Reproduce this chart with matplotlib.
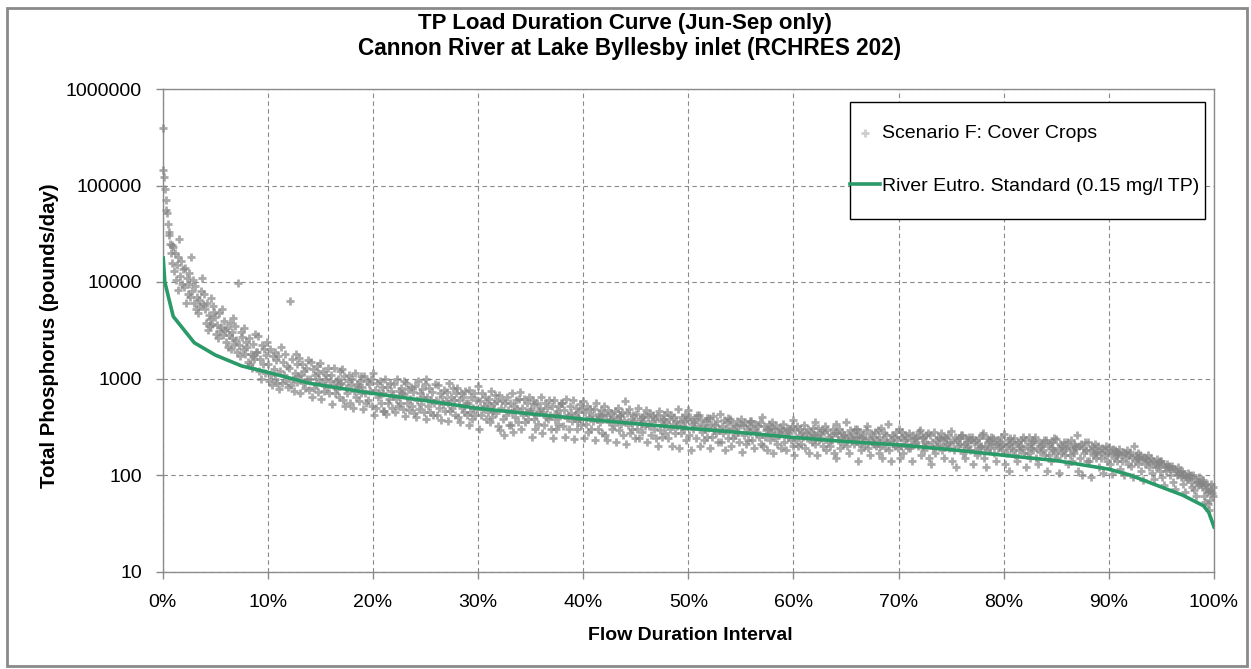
import numpy as np
import matplotlib
matplotlib.use("Agg")
import matplotlib.pyplot as plt
from matplotlib.ticker import FixedLocator, FuncFormatter, PercentFormatter
from matplotlib.patches import Rectangle

# ---------------- data ----------------
# Scatter: TP load (pounds/day) for Scenario F, listed by flow-duration bin (1% wide bins)
scenario_bins = [
    [395000, 145000, 122000, 91000, 71000, 56000, 52000, 40000, 32600, 30800, 25000, 20000, 24000, 15800],
    [23300, 12900, 20000, 10500, 15000, 8300, 18000],
    [8900, 14000, 6100, 11000, 7500, 9500],
    [6100, 9000, 5200, 7000, 4800, 6500],
    [5200, 3800, 6000, 3200, 4500, 3500],
    [4300, 2900, 3600, 2600, 4800, 3100],
    [2400, 3300, 2100, 2800, 3800, 2000],
    [2500, 1900, 9800, 2200, 1700, 3000],
    [2100, 1500, 2600, 1400, 1800, 1300],
    [1860, 2750, 1200, 1600, 1000, 2200],
    [1400, 950, 2000, 1100, 850, 1700],
    [1700, 780, 1200, 2100, 900, 1500],
    [1300, 6300, 850, 1600, 1000, 750],
    [1650, 700, 1100, 1400, 900, 1200],
    [1000, 1500, 650, 1250, 800, 1100],
    [1460, 620, 900, 1200, 750, 1000],
    [1100, 550, 850, 1300, 700, 950],
    [900, 1250, 600, 1050, 520, 800],
    [1000, 500, 750, 1150, 650, 880],
    [820, 480, 1050, 700, 560, 950],
    [1150, 420, 760, 500, 900, 640],
    [700, 460, 980, 430, 820, 560],
    [880, 450, 620, 1000, 520, 740],
    [690, 410, 900, 560, 780, 470],
    [830, 400, 600, 950, 480, 700],
    [980, 380, 650, 520, 800, 450],
    [600, 420, 850, 500, 700, 370],
    [720, 360, 560, 900, 460, 640],
    [800, 400, 600, 350, 700, 500],
    [560, 330, 760, 450, 650, 380],
    [830, 300, 580, 420, 700, 480],
    [620, 350, 520, 750, 400, 460],
    [680, 290, 500, 600, 380, 260],
    [560, 330, 700, 450, 280, 520],
    [720, 300, 500, 420, 620, 350],
    [480, 250, 600, 380, 540, 300],
    [650, 270, 450, 330, 560, 400],
    [520, 240, 600, 380, 430, 300],
    [560, 320, 470, 250, 620, 390],
    [600, 235, 420, 500, 300, 360],
    [580, 240, 450, 340, 520, 280],
    [480, 230, 560, 380, 300, 430],
    [520, 260, 420, 230, 470, 350],
    [460, 220, 380, 500, 290, 410],
    [580, 210, 440, 330, 480, 270],
    [430, 300, 500, 240, 380, 340],
    [470, 220, 400, 320, 440, 260],
    [410, 200, 460, 290, 360, 250],
    [450, 240, 380, 300, 420, 200],
    [480, 190, 350, 270, 400, 320],
    [470, 260, 400, 180, 340, 300],
    [420, 200, 370, 280, 330, 230],
    [390, 190, 340, 250, 410, 290],
    [430, 220, 320, 270, 370, 180],
    [380, 200, 340, 240, 300, 260],
    [385, 175, 330, 260, 350, 210],
    [360, 230, 300, 190, 340, 270],
    [400, 200, 320, 250, 290, 180],
    [350, 170, 300, 240, 330, 210],
    [340, 220, 280, 180, 310, 250],
    [370, 160, 290, 230, 320, 200],
    [330, 190, 270, 240, 300, 170],
    [350, 210, 260, 160, 310, 230],
    [320, 180, 290, 220, 250, 200],
    [340, 150, 270, 230, 300, 190],
    [355, 200, 260, 170, 290, 240],
    [300, 140, 250, 210, 280, 180],
    [320, 190, 240, 160, 270, 220],
    [290, 170, 250, 200, 310, 150],
    [340, 180, 230, 140, 260, 210],
    [300, 150, 250, 200, 280, 170],
    [270, 190, 230, 140, 260, 210],
    [290, 160, 240, 200, 250, 180],
    [260, 130, 220, 190, 280, 170],
    [270, 180, 230, 150, 250, 200],
    [288, 140, 220, 180, 250, 120],
    [260, 170, 210, 150, 240, 190],
    [250, 130, 220, 180, 230, 160],
    [270, 150, 200, 120, 240, 180],
    [240, 170, 210, 140, 230, 190],
    [266, 130, 200, 170, 230, 111],
    [240, 160, 210, 140, 220, 180],
    [230, 120, 200, 170, 250, 150],
    [245, 150, 190, 130, 220, 175],
    [230, 110, 200, 160, 215, 140],
    [236, 150, 190, 105, 210, 170],
    [220, 130, 195, 160, 230, 140],
    [260, 110, 200, 150, 210, 100],
    [218, 140, 180, 95, 200, 160],
    [200, 120, 175, 150, 190, 105],
    [194, 130, 170, 103, 185, 150],
    [185, 115, 160, 140, 175, 100],
    [175, 125, 155, 95, 200, 140],
    [160, 110, 145, 88, 152, 130],
    [150, 105, 140, 90, 130, 120],
    [140, 95, 130, 78, 120, 110],
    [125, 85, 115, 72, 110, 100],
    [110, 80, 102, 66, 95, 90],
    [100, 70, 90, 60, 85, 78],
    [85, 60, 78, 52, 72, 66, 81, 50, 69, 43, 55],
]

# Additional Scenario F points in the same bins (bins 1..99)
scenario_bins_more = [
    [],
    [28000, 11500, 16500, 9500, 13500],
    [12500, 7000, 18000, 8000, 10500],
    [5600, 8000, 11000, 5900, 7600],
    [4100, 6800, 3700, 5600, 4900],
    [3400, 5300, 2800, 3900, 3200],
    [2600, 3000, 4200, 2300, 3500],
    [2700, 2000, 3300, 1800, 2400],
    [1700, 2300, 1600, 2900, 1900],
    [1400, 2000, 1150, 1750, 2400],
    [1250, 1900, 1000, 1550, 900],
    [1100, 1800, 950, 1350, 820],
    [1150, 1800, 920, 1400, 1050],
    [800, 1300, 1000, 1550, 760],
    [900, 1350, 720, 1150, 1000],
    [1100, 820, 1300, 700, 950],
    [780, 1000, 650, 1200, 880],
    [700, 950, 1100, 560, 850],
    [820, 580, 950, 700, 1050],
    [600, 880, 750, 1000, 520],
    [700, 950, 560, 820, 460],
    [620, 900, 750, 500, 680],
    [560, 800, 700, 480, 940],
    [620, 820, 520, 720, 440],
    [550, 780, 650, 450, 880],
    [600, 720, 420, 560, 880],
    [650, 540, 760, 460, 580],
    [500, 800, 600, 420, 700],
    [650, 450, 750, 560, 420],
    [500, 700, 420, 600, 480],
    [520, 640, 380, 560, 450],
    [560, 680, 440, 580, 320],
    [560, 420, 650, 470, 330],
    [400, 600, 480, 350, 620],
    [450, 560, 380, 650, 460],
    [420, 560, 340, 460, 500],
    [500, 380, 600, 420, 300],
    [460, 340, 520, 410, 560],
    [420, 300, 520, 440, 360],
    [450, 380, 540, 330, 480],
    [400, 480, 300, 420, 360],
    [400, 350, 470, 270, 420],
    [380, 440, 300, 400, 330],
    [420, 340, 450, 260, 370],
    [380, 300, 420, 360, 240],
    [400, 280, 360, 420, 320],
    [360, 420, 300, 380, 240],
    [380, 330, 420, 270, 350],
    [340, 400, 270, 360, 320],
    [300, 420, 360, 230, 380],
    [350, 380, 240, 420, 320],
    [300, 360, 250, 390, 310],
    [330, 270, 360, 220, 300],
    [300, 350, 240, 390, 290],
    [320, 360, 280, 220, 330],
    [300, 230, 320, 280, 360],
    [280, 320, 250, 350, 210],
    [300, 340, 230, 270, 310],
    [280, 260, 310, 190, 290],
    [270, 300, 230, 320, 200],
    [260, 300, 210, 280, 250],
    [250, 280, 220, 310, 260],
    [270, 240, 290, 200, 280],
    [260, 230, 300, 170, 270],
    [250, 280, 210, 260, 240],
    [230, 270, 210, 300, 250],
    [240, 260, 200, 230, 290],
    [250, 210, 280, 200, 230],
    [230, 270, 190, 260, 220],
    [250, 200, 280, 230, 190],
    [230, 260, 210, 240, 190],
    [240, 220, 250, 200, 280],
    [220, 260, 210, 270, 150],
    [230, 200, 250, 210, 240],
    [240, 210, 260, 190, 220],
    [230, 200, 240, 210, 260],
    [220, 200, 250, 180, 230],
    [210, 240, 190, 200, 260],
    [220, 230, 190, 250, 210],
    [220, 200, 250, 180, 210],
    [210, 240, 190, 220, 180],
    [200, 230, 190, 250, 170],
    [210, 190, 220, 180, 230],
    [200, 210, 180, 230, 160],
    [190, 220, 180, 240, 170],
    [200, 180, 220, 160, 190],
    [180, 210, 170, 200, 190],
    [190, 170, 220, 180, 140],
    [190, 170, 210, 150, 175],
    [180, 160, 200, 140, 170],
    [180, 160, 175, 140, 165],
    [170, 150, 180, 130, 160],
    [160, 150, 170, 130, 145],
    [150, 140, 160, 120, 135],
    [145, 125, 135, 110, 140],
    [130, 120, 125, 100, 115],
    [120, 105, 110, 95, 100],
    [105, 95, 100, 85, 75],
    [95, 85, 80, 75, 88],
    [80, 70, 65, 75, 60],
]

# River eutrophication standard load curve (0.15 mg/l TP)
standard_x = [0.05, 0.2, 1.0, 3.0, 5.0, 7.5, 10, 14, 20, 25, 30, 35, 40, 45, 50,
              55, 60, 65, 70, 75, 80, 85, 90, 92, 95, 97, 99, 99.5, 100]
standard_y = [17700, 10000, 4400, 2350, 1750, 1350, 1160, 890, 700, 590, 490, 430, 380,
              340, 305, 275, 245, 222, 205, 183, 160, 141, 115, 100, 75, 62, 48, 41, 29]

y_ticks = [10, 100, 1000, 10000, 100000, 1000000]
x_ticks = [0, 10, 20, 30, 40, 50, 60, 70, 80, 90, 100]

title_lines = ["TP Load Duration Curve (Jun-Sep only)",
               "Cannon River at Lake Byllesby inlet (RCHRES 202)"]
series_labels = ["Scenario F: Cover Crops", "River Eutro. Standard (0.15 mg/l TP)"]

# --------------- scatter coordinates: rank position inside each 1% bin ---------------
sc_x, sc_y = [], []
for i, (a, b) in enumerate(zip(scenario_bins, scenario_bins_more)):
    row = a + b
    n = len(row)
    for j, v in enumerate(row):
        sc_x.append(i + j / n)
        sc_y.append(v)

# --------------- plot ---------------
plt.rcParams['font.family'] = ['Liberation Sans', 'DejaVu Sans']

W, H = 1251, 669
fig = plt.figure(figsize=(W / 100, H / 100), dpi=100)
left, right, top, bottom = 162.7, 1214, 89, 571.5
ax = fig.add_axes([left / W, 1 - bottom / H, (right - left) / W, (bottom - top) / H])

grid_col = '#8a8a8a'
ax.scatter(sc_x, sc_y, marker='+', s=40, linewidths=2.0, color='#858585', alpha=0.7,
           label=series_labels[0], zorder=3, clip_on=False)
ax.plot(standard_x, standard_y, color='#2a9a68', lw=2.6, label=series_labels[1], zorder=4)

ax.set_yscale('log')
ax.set_ylim(10, 1000000)
ax.set_xlim(0, 100)
ax.yaxis.set_major_locator(FixedLocator(y_ticks))
ax.yaxis.set_major_formatter(FuncFormatter(lambda v, p: f"{v:.0f}"))
ax.yaxis.set_minor_locator(FixedLocator([]))
ax.xaxis.set_major_locator(FixedLocator(x_ticks))
ax.xaxis.set_major_formatter(PercentFormatter(xmax=100, decimals=0))

ax.grid(True, which='major', color=grid_col, linestyle=(0, (4, 3)), linewidth=0.8)
ax.set_axisbelow(True)
for s in ax.spines.values():
    s.set_color(grid_col)
    s.set_linewidth(1.0)
ax.tick_params(axis='both', direction='out', length=5, width=1.0, color=grid_col,
               labelsize=14, labelcolor='black')
ax.tick_params(axis='y', pad=10)
ax.tick_params(axis='x', pad=11)

fig.text(625 / W, 1 - 23 / H, title_lines[0], ha='center', va='center',
         fontsize=16, fontweight='bold')
fig.text(630 / W, 1 - 49 / H, title_lines[1], ha='center', va='center',
         fontsize=16.3, fontweight='bold')
fig.text(50 / W, 1 - 336 / H, "Total Phosphorus (pounds/day)", rotation=90,
         ha='center', va='center', fontsize=14.7, fontweight='bold')
fig.text(690 / W, 1 - 635 / H, "Flow Duration Interval", ha='center', va='center',
         fontsize=14, fontweight='bold')

# legend box (white, black edge) and legend entries
box = Rectangle((850 / W, 1 - 219 / H), 355 / W, 117 / H, transform=fig.transFigure,
                facecolor='white', edgecolor='black', linewidth=1.0, zorder=5, clip_on=False)
ax.add_patch(box)
leg = ax.legend(loc='upper left',
                bbox_to_anchor=((850 - left) / (right - left), (bottom - 124) / (bottom - top)),
                frameon=False, fontsize=14, labelspacing=1.85,
                handlelength=1.55, handletextpad=0.1, borderpad=0, borderaxespad=0)
leg.set_zorder(6)
leg.legend_handles[0].set_alpha(0.4)

fig.patches.append(Rectangle((7 / W, 3 / H), 1240 / W, 658 / H, transform=fig.transFigure,
                             fill=False, edgecolor='#8a8a8a', linewidth=2))

fig.savefig('out.png', dpi=100)
